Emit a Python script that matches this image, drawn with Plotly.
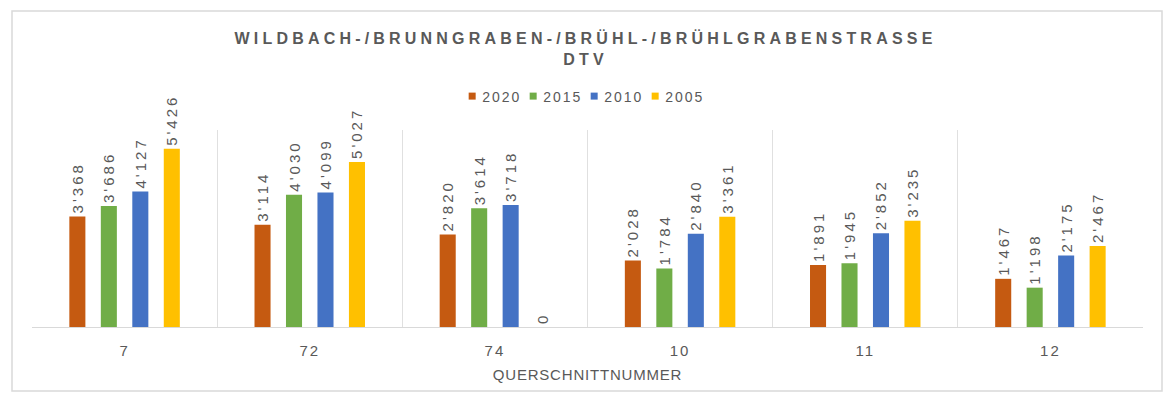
import plotly.graph_objects as go

categories = ["7", "72", "74", "10", "11", "12"]
series_names = ["2020", "2015", "2010", "2005"]
v2020 = [3368, 3114, 2820, 2028, 1891, 1467]
v2015 = [3686, 4030, 3614, 1784, 1945, 1198]
v2010 = [4127, 4099, 3718, 2840, 2852, 2175]
v2005 = [5426, 5027, 0, 3361, 3235, 2467]
colors = ["#C55A11", "#70AD47", "#4472C4", "#FFC000"]

title_text = "WILDBACH-/BRUNNGRABEN-/BRÜHL-/BRÜHLGRABENSTRASSE<br>DTV"
x_title = "QUERSCHNITTNUMMER"

FONT = "Liberation Sans, Arial, sans-serif"
GREY = "#595959"

fig = go.Figure()
for name, vals, col in zip(series_names, [v2020, v2015, v2010, v2005], colors):
    fig.add_trace(go.Bar(
        x=categories, y=vals, name=name, showlegend=False,
        marker=dict(color=col, line=dict(width=0)),
        texttemplate="%{y:,}", textposition="outside", textangle=-90,
        constraintext="none",
        textfont=dict(family=FONT, size=15, color=GREY),
        cliponaxis=False,
    ))
# legend entries with small square symbols
for name, col in zip(series_names, colors):
    fig.add_trace(go.Scatter(
        x=[None], y=[None], mode="markers", name=name,
        marker=dict(symbol="square", size=7, color=col),
    ))

fig.update_layout(
    width=1171, height=401,
    margin=dict(l=32, r=28, t=130, b=74),
    paper_bgcolor="white", plot_bgcolor="white",
    separators=".'",
    barmode="group", bargap=0.32, bargroupgap=0.49,
    title=dict(text=title_text, x=0.5, xanchor="center", y=0.89, yanchor="top",
               font=dict(family=FONT, size=16, color=GREY, weight="bold")),
    legend=dict(orientation="h", x=0.488, xanchor="center", y=1.17, yanchor="middle",
                font=dict(family=FONT, size=14, color=GREY), itemwidth=30,
                entrywidth=16, traceorder="normal", bgcolor="rgba(0,0,0,0)"),
    showlegend=True,
    xaxis=dict(type="category", tickson="boundaries", showgrid=True, gridcolor="#E0E0E0",
               gridwidth=1, showline=True, linecolor="#D9D9D9", linewidth=1,
               ticks="", ticklabelstandoff=10,
               tickfont=dict(family=FONT, size=15, color=GREY),
               title=dict(text=x_title, font=dict(family=FONT, size=15, color=GREY), standoff=11)),
    yaxis=dict(range=[0, 6000], visible=False, showgrid=False),
    shapes=[dict(type="rect", xref="paper", yref="paper",
                 x0=(12 - 32) / 1111, x1=(1162 - 32) / 1111,
                 y0=(327 - 391) / 197, y1=(327 - 11) / 197,
                 line=dict(color="#D9D9D9", width=1.5), fillcolor="rgba(0,0,0,0)", layer="below")],
)

post = """
document.body.style.margin='0';
var s=document.createElement('style');
s.innerHTML='body{margin:0;} .gtitle{letter-spacing:4.2px;} .xtick text{letter-spacing:2px;}'
 + ' .xtitle{letter-spacing:0.8px;} .legendtext{letter-spacing:2px;}'
 + ' .legend .scrollbox{clip-path:none !important;}';
document.head.appendChild(s);
var LS = 3;
function fixText(){
  document.querySelectorAll('text.bartext').forEach(function(t){
    var tr = t.getAttribute('transform') || '';
    if (t.__applied && tr === t.__applied) return;
    var n = t.textContent.length;
    t.style.letterSpacing = LS + 'px';
    var nt = tr + ' translate(' + (n*LS/2) + ',0)';
    t.setAttribute('transform', nt);
    t.__applied = nt;
  });
  document.querySelectorAll('text.legendtext').forEach(function(t){
    var x = parseFloat(t.getAttribute('x') || '0');
    if (t.__lx !== undefined && x === t.__lx) return;
    var nx = x - 10;
    t.setAttribute('x', nx);
    t.__lx = nx;
  });
}
fixText();
setTimeout(fixText, 50);
setTimeout(fixText, 300);
var gd = document.getElementById('{plot_id}');
if (gd && gd.on) { gd.on('plotly_afterplot', fixText); }
"""
fig.write_html("out.html", post_script=post, config={"displayModeBar": False})
